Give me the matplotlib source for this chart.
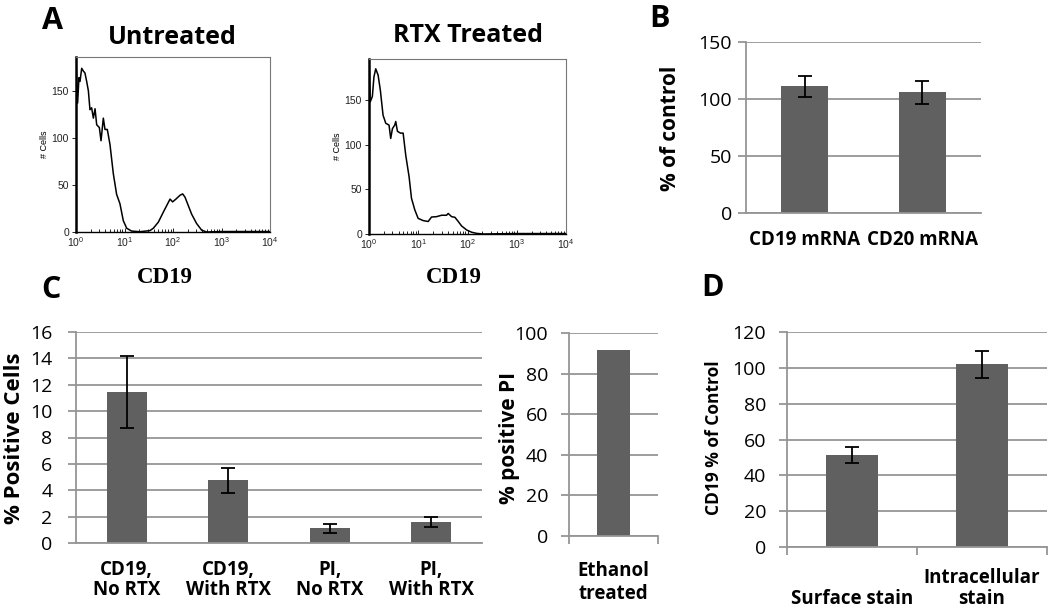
import numpy as np
import matplotlib
matplotlib.use("Agg")
import matplotlib.pyplot as plt

plt.rcParams['font.family'] = ['Open Sans', 'DejaVu Sans']

# ---- data ----
# flow cytometry histograms (CD19 fluorescence, # cells)
untreated_x = [1.0, 1.08, 1.15, 1.21, 1.31, 1.42, 1.53, 1.66, 1.80, 1.94, 2.10, 2.28, 2.47, 2.67,
               3.03, 3.28, 3.66, 3.96, 4.42, 5.02, 5.88, 6.88, 8.06, 9.45, 11.1, 14.0, 20.8, 33.5,
               39.3, 49.9, 63, 74, 87, 98, 115, 139, 158, 177, 207, 242, 307, 389, 493, 1000, 10000]
untreated_y = [183, 137, 164, 160, 174, 171, 169, 160, 150, 130, 132, 121, 131, 114,
               111, 97, 121, 109, 109, 93, 62, 40, 30, 12, 4, 1, 0.3, 1.5,
               4, 10.5, 21, 28, 35, 32, 35, 39, 40.5, 37, 28, 19, 9, 2, 0, 0.5, 0.5]
rtx_x = [1.0, 1.06, 1.17, 1.26, 1.37, 1.53, 1.70, 1.93, 2.19, 2.55, 2.76, 2.99, 3.33, 3.49,
         3.78, 4.35, 4.93, 5.58, 6.52, 7.29, 8.51, 9.95, 12.6, 15.9, 18.6, 23.5, 29.7, 37.5,
         40.6, 47.6, 55.5, 64.9, 75.9, 96.1, 121, 153, 210, 1000, 10000]
rtx_y = [195, 148, 154, 176, 185, 178, 161, 133, 124, 122, 107, 118, 122, 126,
         115, 113, 113, 88, 64, 40, 27, 17.5, 15, 14, 19, 19.4, 21, 21,
         23, 19.4, 18.7, 14, 9, 4.5, 2, 0.7, 0, 0.5, 0.5]

# panel B
b_labels = ["CD19 mRNA", "CD20 mRNA"]
b_values = [111, 106]
b_err = [9, 10]

# panel C
c_labels = ["CD19,\nNo RTX", "CD19,\nWith RTX", "PI,\nNo RTX", "PI,\nWith RTX"]
c_values = [11.45, 4.75, 1.1, 1.6]
c_err = [2.7, 0.95, 0.35, 0.4]
eth_labels = ["Ethanol\ntreated"]
eth_values = [91.5]

# panel D
d_labels = ["\nSurface stain", "Intracellular\nstain"]
d_values = [51.5, 102]
d_err = [4.5, 7.5]

W, H = 1050, 612
fig = plt.figure(figsize=(W / 100, H / 100), dpi=100)

def box(l, t, r, b):
    return fig.add_axes([l / W, 1 - b / H, (r - l) / W, (b - t) / H])

GRID = '#959595'
BAR = '#606060'

def hist_panel(l, t, r, b, xs, ys, ymax):
    ax = box(l, t, r, b)
    ax.plot(xs, ys, color='black', lw=1.1)
    ax.set_xscale('log')
    ax.set_xlim(1, 1e4)
    ax.set_ylim(0, ymax)
    ax.set_yticks([0, 50, 100, 150])
    for s in ['top', 'right']:
        ax.spines[s].set_color('#777777')
        ax.spines[s].set_linewidth(0.8)
    ax.spines['left'].set_linewidth(1.8)
    ax.spines['bottom'].set_linewidth(1.0)
    ax.tick_params(axis='both', labelsize=7.5, length=3, width=0.7, colors='#222222',
                   labelfontfamily='Liberation Sans', pad=2)
    ax.tick_params(axis='x', which='both', direction='in')
    ax.tick_params(axis='x', which='minor', length=2)
    ax.set_ylabel('# Cells', fontsize=6.5, family='Liberation Sans', labelpad=2)
    return ax

def bar_style(ax, ymax, step, pad_x, pad_y):
    ax.set_ylim(0, ymax)
    ax.set_yticks(np.arange(0, ymax + step / 2, step))
    ax.yaxis.grid(True, color=GRID, lw=1.3)
    ax.set_axisbelow(True)
    for s in ['top', 'right']:
        ax.spines[s].set_visible(False)
    for s in ['left', 'bottom']:
        ax.spines[s].set_color(GRID)
        ax.spines[s].set_linewidth(1.3)
    ax.tick_params(axis='y', length=6, width=1.3, color=GRID, labelsize=14, pad=pad_y)
    ax.tick_params(axis='x', which='major', length=0, labelsize=13.5, pad=pad_x)
    for lab in ax.get_xticklabels():
        lab.set_fontweight('bold')

# ---- panel A ----
hist_panel(76, 57, 270, 232, untreated_x, untreated_y, 186)
hist_panel(369, 59, 566, 234, rtx_x, rtx_y, 196)
fig.text(172 / W, 1 - 37 / H, "Untreated", fontsize=18, fontweight='bold', ha='center', va='center')
fig.text(468 / W, 1 - 35 / H, "RTX Treated", fontsize=18, fontweight='bold', ha='center', va='center')
for cx in [165, 454]:
    fig.text(cx / W, 1 - 278 / H, "CD19", fontsize=16.5, fontweight='bold',
             family='Liberation Serif', ha='center', va='center')

# ---- panel B ----
ax = box(746, 42, 981, 213)
xb = np.arange(len(b_values))
ax.bar(xb, b_values, width=0.4, color=BAR)
ax.errorbar(xb, b_values, yerr=b_err, fmt='none', ecolor='black', elinewidth=1.3, capsize=5, capthick=1.3)
ax.set_xlim(-0.5, len(b_values) - 0.5)
ax.set_xticks(xb)
ax.set_xticklabels(b_labels)
bar_style(ax, 150, 50, 12, 4)

# ---- panel C ----
ax = box(76, 332, 482, 543)
xc = np.arange(len(c_values))
ax.bar(xc, c_values, width=0.39, color=BAR)
ax.errorbar(xc, c_values, yerr=c_err, fmt='none', ecolor='black', elinewidth=1.3, capsize=5, capthick=1.3)
ax.set_xlim(-0.5, len(c_values) - 0.5)
ax.set_xticks(xc)
ax.set_xticklabels(c_labels, linespacing=1.0)
bar_style(ax, 16, 2, 12, 11)

ax = box(569, 333, 658, 536)
xe = np.arange(len(eth_values))
ax.bar(xe, eth_values, width=0.38, color=BAR)
ax.set_xlim(-0.5, 0.5)
ax.set_xticks(xe)
ax.set_xticklabels(eth_labels, linespacing=1.2)
ax.set_xticks([-0.5, 0.5], minor=True)
bar_style(ax, 100, 20, 18, 9)
ax.tick_params(axis='x', which='minor', length=6, width=1.3, color=GRID)

# ---- panel D ----
ax = box(787, 332, 1047, 547)
xd = np.arange(len(d_values))
ax.bar(xd, d_values, width=0.4, color=BAR)
ax.errorbar(xd, d_values, yerr=d_err, fmt='none', ecolor='black', elinewidth=1.3, capsize=5, capthick=1.3)
ax.set_xlim(-0.5, len(d_values) - 0.5)
ax.set_xticks(xd)
ax.set_xticklabels(d_labels, linespacing=1.1)
ax.set_xticks([-0.5, 0.5, 1.5], minor=True)
bar_style(ax, 120, 20, 15, 9)
ax.tick_params(axis='x', which='minor', length=6, width=1.3, color=GRID)

# ---- axis titles and panel letters ----
fig.text(670 / W, 1 - 128 / H, "% of control", rotation=90, fontsize=15, fontweight='bold', ha='center', va='center')
fig.text(15 / W, 1 - 438 / H, "% Positive Cells", rotation=90, fontsize=16, fontweight='bold', ha='center', va='center')
fig.text(510 / W, 1 - 438 / H, "% positive PI", rotation=90, fontsize=15, fontweight='bold', ha='center', va='center')
fig.text(714 / W, 1 - 438 / H, "CD19 % of Control", rotation=90, fontsize=12.5, fontweight='bold', ha='center', va='center')

for letter, x, y in [("A", 52, 21), ("B", 660, 19), ("C", 51, 290), ("D", 712, 288)]:
    fig.text(x / W, 1 - y / H, letter, fontsize=22, fontweight='bold', ha='center', va='center')

fig.savefig("out.png", dpi=100)
